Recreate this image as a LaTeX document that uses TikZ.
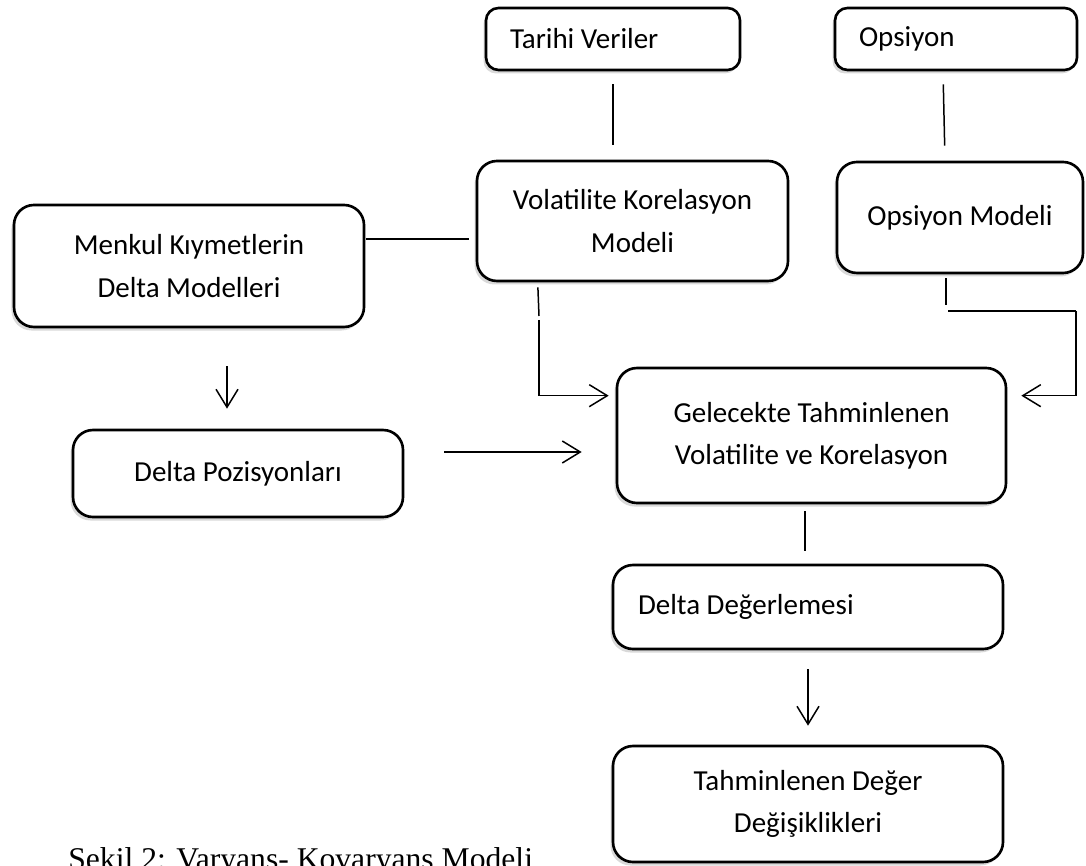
\documentclass[tikz,border=0pt]{standalone}
\usepackage{fontspec}
\setmainfont{Carlito}
\newfontfamily\captionfont{Liberation Serif}
\usetikzlibrary{arrows.meta,shadows}

\begin{document}
\begin{tikzpicture}[
  box/.style={draw, line width=1.5pt, rounded corners=0.4cm, fill=white, align=center,
    font=\fontsize{16.5}{24}\selectfont,
    drop shadow={shadow xshift=-0.05cm, shadow yshift=-0.07cm, opacity=0.3}},
  leftbox/.style={box, align=flush left, rounded corners=0.25cm},
  link/.style={line width=0.85pt},
  arr/.style={link, -{Straight Barb[length=0.36cm, width=0.44cm]}}
]
\useasboundingbox (0,0) rectangle (21.72,-17.30);

\node[leftbox, inner xsep=0.48cm, text width=4.12cm, minimum height=1.24cm] (tarihi) at (12.26,-0.78) {Tarihi Veriler};
\node[leftbox, inner xsep=0.48cm, text width=3.88cm, minimum height=1.24cm] (opsiyon) at (19.12,-0.78) {Opsiyon};
\node[box, minimum width=6.22cm, minimum height=2.40cm] (volkor) at (12.65,-4.42) {Volatilite Korelasyon\\Modeli};
\node[box, minimum width=4.92cm, minimum height=2.22cm] (opmod) at (19.20,-4.35) {Opsiyon Modeli};
\node[box, minimum width=7.00cm, minimum height=2.44cm] (menkul) at (3.78,-5.32) {Menkul Kıymetlerin\\Delta Modelleri};
\node[box, minimum width=6.60cm, minimum height=1.74cm] (dpoz) at (4.76,-9.47) {Delta Pozisyonları};
\node[box, minimum width=7.78cm, minimum height=2.70cm] (gelecek) at (16.23,-8.71) {Gelecekte Tahminlenen\\Volatilite ve Korelasyon};
\node[leftbox, rounded corners=0.4cm, inner xsep=0.5cm, text width=6.80cm, minimum height=1.68cm] (degerleme) at (16.16,-12.14) {Delta Değerlemesi};
\node[box, minimum width=7.80cm, minimum height=2.32cm] (tahmin) at (16.16,-16.08) {Tahminlenen Değer\\Değişiklikleri};

\node[anchor=base west, inner sep=0pt, font=\captionfont\fontsize{18}{22}\selectfont] (sekil) at (1.36,-17.38) {Şekil 2: Varyans- Kovaryans Modeli};

% upper links
\draw[link, shorten <=0.26cm, shorten >=0.30cm] (tarihi.south) -- (tarihi.south |- volkor.north);
\draw[link, shorten <=0.26cm, shorten >=0.30cm] ([xshift=-0.26cm]opsiyon.south) -- ([xshift=-0.30cm]opmod.north);
\draw[link, shorten <=0.02cm, shorten >=0.14cm] ([yshift=0.54cm]menkul.east) -- ([yshift=0.54cm]menkul.east -| volkor.west);

% into Gelecekte Tahminlenen
\coordinate (kirik1) at (10.78,-6.32);
\coordinate (kirik2) at (18.92,-6.10);
\coordinate (donus) at (21.52,-6.22);
\draw[link, shorten <=0.10cm] ([xshift=1.24cm]volkor.south west) -- (kirik1);
\draw[arr, shorten >=0.14cm] ([yshift=-0.08cm]kirik1) |- ([yshift=-0.58cm]gelecek.north west);
\draw[link, shorten <=0.08cm] ([xshift=-0.28cm]opmod.south) -- (kirik2);
\draw[link] ([xshift=0.04cm,yshift=-0.12cm]kirik2) -- (donus);
\draw[arr, shorten >=0.28cm] (donus) |- ([yshift=-0.58cm]gelecek.north east);
\draw[arr, shorten <=0.76cm, shorten >=0.40cm] ([xshift=0.76cm]menkul.south) -- ([xshift=-0.22cm]dpoz.north);
\draw[arr, shorten <=0.80cm, shorten >=0.68cm] ([yshift=0.43cm]dpoz.east) -- ([yshift=0.43cm]dpoz.east -| gelecek.west);

% lower chain
\draw[link, shorten <=0.14cm, shorten >=0.26cm] ([xshift=-0.13cm]gelecek.south) -- ([xshift=-0.13cm]gelecek.south |- degerleme.north);
\draw[arr, shorten <=0.38cm, shorten >=0.38cm] (degerleme.south) -- (degerleme.south |- tahmin.north);
\end{tikzpicture}
\end{document}
